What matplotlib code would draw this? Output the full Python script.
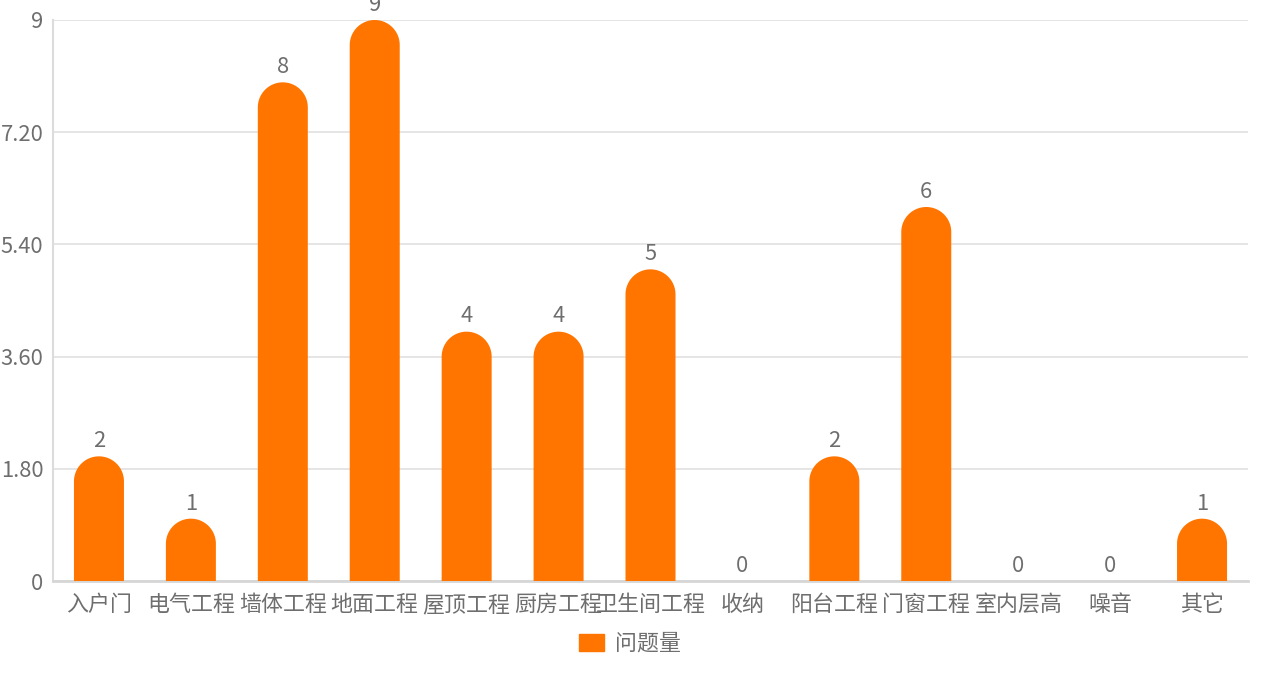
import numpy as np
import matplotlib.pyplot as plt
from matplotlib.patches import Polygon

plt.rcParams['font.family'] = ['Noto Sans CJK SC', 'DejaVu Sans']

# 数据
categories = ['入户门', '电气工程', '墙体工程', '地面工程', '屋顶工程', '厨房工程',
              '卫生间工程', '收纳', '阳台工程', '门窗工程', '室内层高', '噪音', '其它']
values = [2, 1, 8, 9, 4, 4, 5, 0, 2, 6, 0, 0, 1]
yticks = [0, 1.8, 3.6, 5.4, 7.2, 9]
ytick_labels = ['0', '1.80', '3.60', '5.40', '7.20', '9']
series_name = '问题量'

W, H = 1274, 674
bar_color = '#ff7500'
text_color = '#6e6e6e'
grid_color = '#e0e0e0'
fs = 15.8

fig = plt.figure(figsize=(W / 100, H / 100), dpi=100)
left, right, top, bottom = 53, 1248, 20, 581
ax = fig.add_axes([left / W, (H - bottom) / H, (right - left) / W, (bottom - top) / H])

n = len(categories)
ax.set_xlim(-0.5, n - 0.5)
ax.set_ylim(0, 9)

# 圆角柱子：像素 -> 数据单位
px_y = (bottom - top) / 9.0
px_x = (right - left) / n
bar_w = 50 / px_x
r_y = 25 / px_y

bars = ax.bar(range(n), values, width=bar_w, color=bar_color, label=series_name)
for rect in bars:
    rect.set_visible(False)
    h = rect.get_height()
    if h <= 0:
        continue
    x0 = rect.get_x()
    w = rect.get_width()
    cx = x0 + w / 2
    theta = np.linspace(0, np.pi, 60)
    arc = np.column_stack([cx + (w / 2) * np.cos(theta), h - r_y + r_y * np.sin(theta)])
    pts = np.vstack([[x0 + w, 0], arc, [x0, 0]])
    ax.add_patch(Polygon(pts, closed=True, facecolor=bar_color, edgecolor='none', zorder=3))

for i, v in enumerate(values):
    ax.annotate(str(v), (i, v), xytext=(0, 3), textcoords='offset points',
                ha='center', va='bottom', fontsize=fs, color=text_color,
                annotation_clip=False)

ax.set_yticks(yticks)
ax.set_yticklabels(ytick_labels)
ax.set_xticks(range(n))
ax.set_xticklabels(categories)
ax.tick_params(axis='y', length=0, pad=7, labelsize=fs, labelcolor=text_color)
ax.tick_params(axis='x', length=0, pad=9.5, labelsize=fs, labelcolor=text_color)

ax.grid(axis='y', color=grid_color, linewidth=1.2, zorder=0)
ax.set_axisbelow(True)
for s in ['top', 'right']:
    ax.spines[s].set_visible(False)
ax.spines['left'].set_color('#dcdcdc')
ax.spines['left'].set_linewidth(1.5)
ax.spines['bottom'].set_color('#d6d6d6')
ax.spines['bottom'].set_linewidth(2)

handle = plt.Rectangle((0, 0), 1, 1, color=bar_color)
fig.legend([handle], [series_name], loc='center', bbox_to_anchor=(630 / W, 1 - 644 / H),
           frameon=False, fontsize=fs, labelcolor=text_color,
           handlelength=1.1, handleheight=0.8, handletextpad=0.5)

fig.savefig('out.png', dpi=100)
